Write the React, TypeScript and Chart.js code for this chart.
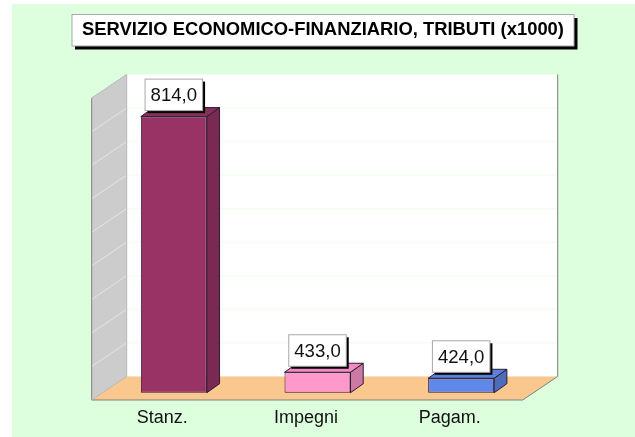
import React, { useEffect, useRef } from "react";
import { Chart, registerables } from "chart.js";

Chart.register(...registerables);

const titleText = "SERVIZIO ECONOMICO-FINANZIARIO, TRIBUTI (x1000)";
const categories = ["Stanz.", "Impegni", "Pagam."];
const values = [814, 433, 424];
const axisMin = 400;
const axisMax = 850;
const axisStep = 50;
const barBase = 402.5;
const frontColors = ["#993366", "#FF99CC", "#6088E8"];
const sideColors = ["#7A2952", "#CC7AA3", "#4D6DBA"];
const topColors = ["#85305A", "#F08CC0", "#5A80DC"];
const outline = "#2B1B33";
const font = "'Liberation Sans', Arial, sans-serif";

const scene = {
  id: "scene",
  afterLayout(chart: any) {
    if (chart.titleBlock) {
      chart.titleBlock.left = 72;
      chart.titleBlock.right = 574;
    }
  },
  beforeDraw(chart: any) {
    const { ctx, chartArea: a, scales } = chart;
    const y = scales.y;
    const fL = a.left - 10.3, fR = a.right - 10.3;
    const bL = fL + 35, bR = fR + 35;
    const yB = y.getPixelForValue(axisMin), yT = y.getPixelForValue(axisMax);
    const fd = 5.6, bd = -18;
    ctx.save();
    // panel
    ctx.fillStyle = "#DDFFDD";
    ctx.fillRect(12, 4, 623, 433);
    // title box
    ctx.fillStyle = "#000";
    ctx.fillRect(75, 18, 502.5, 31.5);
    ctx.fillStyle = "#FFF";
    ctx.fillRect(72, 14.5, 502, 31.5);
    ctx.strokeStyle = "#A8A8A8";
    ctx.lineWidth = 1;
    ctx.strokeRect(72, 14.5, 502, 31.5);
    // back wall
    ctx.fillStyle = "#FFF";
    ctx.fillRect(bL, yT + bd, bR - bL, yB - yT);
    // left wall
    ctx.fillStyle = "#CCCCCC";
    ctx.beginPath();
    ctx.moveTo(fL, yT + fd); ctx.lineTo(bL, yT + bd); ctx.lineTo(bL, yB + bd); ctx.lineTo(fL, yB + fd);
    ctx.closePath(); ctx.fill();
    // floor
    ctx.fillStyle = "#FAC78F";
    ctx.beginPath();
    ctx.moveTo(fL, yB + fd); ctx.lineTo(bL, yB + bd); ctx.lineTo(bR, yB + bd); ctx.lineTo(fR, yB + fd);
    ctx.closePath(); ctx.fill();
    // grid lines from the axis ticks
    y.ticks.forEach((t: any) => {
      const p = y.getPixelForValue(t.value);
      if (t.value === axisMin || t.value === axisMax) return;
      ctx.strokeStyle = "#F4FDF4";
      ctx.lineWidth = 1.5;
      ctx.beginPath(); ctx.moveTo(bL, p + bd); ctx.lineTo(bR, p + bd); ctx.stroke();
      ctx.strokeStyle = "#E2E6E2";
      ctx.lineWidth = 1;
      ctx.beginPath(); ctx.moveTo(fL, p + fd); ctx.lineTo(bL, p + bd); ctx.stroke();
    });
    // edges
    ctx.strokeStyle = "#808080";
    ctx.lineWidth = 1;
    ctx.beginPath(); ctx.moveTo(fL, yT + fd); ctx.lineTo(fL, yB + fd); ctx.lineTo(fR, yB + fd); ctx.stroke();
    ctx.beginPath(); ctx.moveTo(fR, yB + fd); ctx.lineTo(bR, yB + bd); ctx.lineTo(bR, yT + bd); ctx.stroke();
    ctx.strokeStyle = "#B8B8B8";
    ctx.beginPath(); ctx.moveTo(bL, yT + bd); ctx.lineTo(bL, yB + bd); ctx.lineTo(fL, yB + fd); ctx.stroke();
    ctx.beginPath(); ctx.moveTo(fL, yT + fd); ctx.lineTo(bL, yT + bd); ctx.stroke();
    ctx.restore();
  },
  beforeDatasetsDraw(chart: any) {
    const { ctx } = chart;
    const dx = 12.7, dy = -9;
    ctx.save();
    ctx.strokeStyle = outline;
    ctx.lineWidth = 1;
    chart.getDatasetMeta(0).data.forEach((el: any, i: number) => {
      const p = el.getProps(["x", "y", "base", "width"], true);
      const l = p.x - p.width / 2, r = p.x + p.width / 2;
      ctx.fillStyle = sideColors[i];
      ctx.beginPath();
      ctx.moveTo(r, p.y); ctx.lineTo(r + dx, p.y + dy); ctx.lineTo(r + dx, p.base + dy); ctx.lineTo(r, p.base);
      ctx.closePath(); ctx.fill(); ctx.stroke();
      ctx.fillStyle = topColors[i];
      ctx.beginPath();
      ctx.moveTo(l, p.y); ctx.lineTo(l + dx, p.y + dy); ctx.lineTo(r + dx, p.y + dy); ctx.lineTo(r, p.y);
      ctx.closePath(); ctx.fill(); ctx.stroke();
    });
    ctx.restore();
  },
  afterDatasetsDraw(chart: any) {
    const { ctx } = chart;
    const w = 57.5, h = 31.5, gap = 6;
    ctx.save();
    ctx.font = `18.6px ${font}`;
    ctx.textAlign = "center";
    ctx.textBaseline = "middle";
    chart.getDatasetMeta(0).data.forEach((el: any, i: number) => {
      const p = el.getProps(["x", "y"], true);
      const left = p.x - w / 2, top = p.y - gap - h;
      ctx.fillStyle = "#000";
      ctx.fillRect(left + 2.5, top + 2.5, w, h);
      ctx.fillStyle = "#FFF";
      ctx.fillRect(left, top, w, h);
      ctx.strokeStyle = "#A8A8A8";
      ctx.lineWidth = 1;
      ctx.strokeRect(left, top, w, h);
      ctx.fillStyle = "#111";
      ctx.fillText(values[i].toFixed(1).replace(".", ","), p.x, top + h / 2 + 1);
    });
    ctx.restore();
  },
};

export default function App() {
  const ref = useRef<HTMLCanvasElement>(null);
  useEffect(() => {
    const chart = new Chart(ref.current!, {
      type: "bar",
      data: {
        labels: categories,
        datasets: [
          {
            data: values,
            base: barBase,
            backgroundColor: frontColors,
            borderColor: outline,
            borderWidth: 1,
            borderSkipped: false,
            barPercentage: 66 / 143.67,
            categoryPercentage: 1,
          } as any,
        ],
      },
      options: {
        responsive: false,
        animation: false,
        events: [],
        layout: { padding: { left: 102, right: 102, top: 0, bottom: 0 } },
        plugins: {
          legend: { display: false },
          tooltip: { enabled: false },
          title: {
            display: true,
            text: titleText,
            color: "#000",
            font: { family: font, size: 18.4, weight: "bold" },
            padding: { top: 19, bottom: 51.37 },
          },
        },
        scales: {
          x: {
            afterFit(scale: any) { scale.height = 42.6; },
            grid: { display: false, drawTicks: false },
            border: { display: false },
            ticks: { color: "#111", font: { family: font, size: 18 }, padding: 13, labelOffset: -11.5 },
          },
          y: {
            display: false,
            min: axisMin,
            max: axisMax,
            ticks: { stepSize: axisStep },
          },
        },
      },
      plugins: [scene],
    } as any);
    return () => chart.destroy();
  }, []);
  return (
    <div style={{ position: "absolute", left: 0, top: 0 }}>
      <canvas ref={ref} width={635} height={437} style={{ display: "block" }} />
    </div>
  );
}
